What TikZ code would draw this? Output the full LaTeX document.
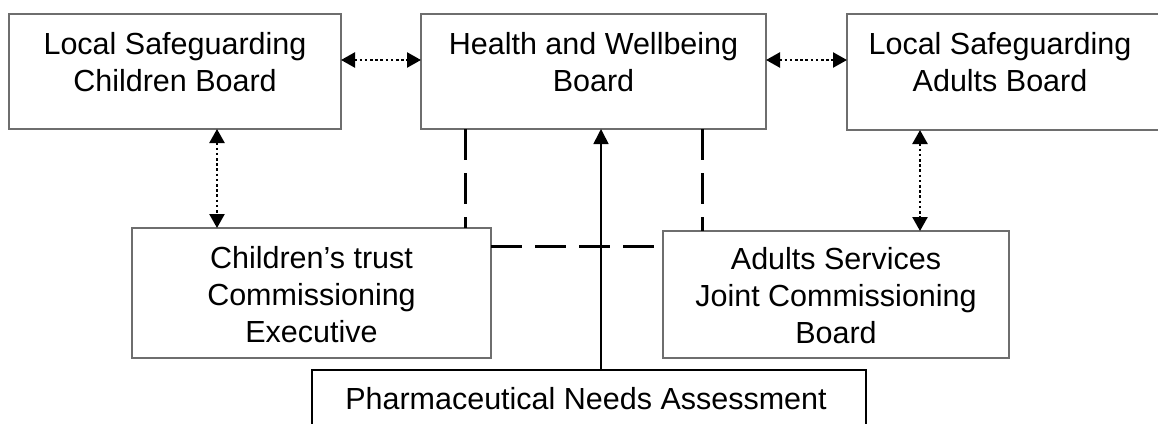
\documentclass[tikz,border=0pt]{standalone}
\usepackage{fontspec}
\setmainfont{Liberation Sans}
\usetikzlibrary{arrows.meta}
\definecolor{boxgray}{RGB}{110,110,110}
\begin{document}
\begin{tikzpicture}[x=1pt,y=-1pt,
  box/.style={draw=boxgray, line width=1.6pt, rectangle, inner sep=0pt, outer sep=0pt},
  blackbox/.style={draw=black, line width=1.6pt, rectangle, inner sep=0pt, outer sep=0pt},
  txt/.style={align=center, font=\fontsize{30.5}{37}\selectfont, inner sep=0pt},
  dotlink/.style={line width=2.4pt, dash pattern=on 2.6pt off 2.6pt,
    {Triangle[length=14pt,width=15pt]}-{Triangle[length=14pt,width=15pt]}},
  dashlink/.style={line width=3pt, dash pattern=on 31pt off 13pt},
  feed/.style={line width=1.6pt, -{Triangle[length=15pt,width=15pt]}}
]
\useasboundingbox (0,0) rectangle (1158,423);

% boards
\node[box, minimum width=332pt, minimum height=115pt] (lscb) at (175,71.5) {};
\node[box, minimum width=345pt, minimum height=115pt] (hwb) at (593.5,71.5) {};
\node[box, minimum width=323pt, minimum height=116pt] (lsab) at (1008.5,72) {};
\node[box, minimum width=359pt, minimum height=130pt] (ctce) at (311.5,293) {};
\node[box, minimum width=346pt, minimum height=127pt] (asjcb) at (836,294.5) {};
\node[blackbox, minimum width=554pt, minimum height=70pt] (pna) at (589,405) {};

% labels
\node[txt] (lscbt) at (175,62) {Local Safeguarding\\Children Board};
\node[txt] (hwbt) at (593.5,62) {Health and Wellbeing\\Board};
\node[txt] (lsabt) at (1000,62) {Local Safeguarding\\Adults Board};
\node[txt] (ctcet) at (311.5,295) {Children’s trust\\Commissioning\\Executive};
\node[txt] (asjcbt) at (836,296) {Adults Services\\Joint Commissioning\\Board};
\node[txt] (pnat) at (586,399) {Pharmaceutical Needs Assessment};

% dotted two-way links
\draw[dotlink] (lscb.east |- 0,60) -- (hwb.west |- 0,60);
\draw[dotlink] (hwb.east |- 0,60) -- (lsab.west |- 0,60);
\draw[dotlink] (lscb.south -| 217,0) -- (ctce.north -| 217,0);
\draw[dotlink] (lsab.south -| 920,0) -- (asjcb.north -| 920,0);

% dashed links
\draw[dashlink] (hwb.south -| 465,0) -- (ctce.north -| 465,0);
\draw[dashlink] (hwb.south -| 702,0) -- (asjcb.north -| 702,0);
\draw[dashlink] (ctce.east |- 0,246) -- (asjcb.west |- 0,246);

% assessment feeding the board
\draw[feed] (pna.north -| 601,0) -- (hwb.south -| 601,0);
\end{tikzpicture}
\end{document}
